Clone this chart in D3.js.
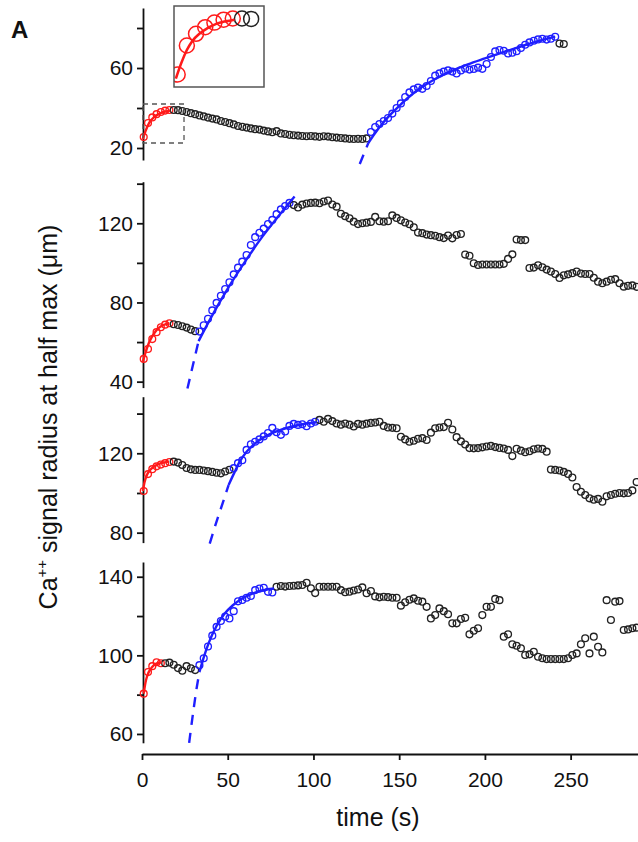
<!DOCTYPE html>
<html>
<head>
<meta charset="utf-8">
<script src="https://cdn.jsdelivr.net/npm/d3@7"></script>
<style>
  body { margin: 0; background: #fff; }
  svg { display: block; font-family: "Liberation Sans", Arial, sans-serif; }
  .axis path, .axis line { stroke: #111; stroke-width: 1.8; }
  .axis text { font-size: 21px; fill: #111; font-family: "Liberation Sans", Arial, sans-serif; }
</style>
</head>
<body>
<svg width="638" height="842"></svg>
<script>
const svg = d3.select('svg');

// sampling of every trace (s)
const t0 = 1;
const dt = 2.5;

// time axis
const xDomain = [0, 289];
const xTicks = [0, 50, 100, 150, 200, 250];

// ---- trace 1 ----
const p1Red = [25.5, 32.5, 35.3, 36.9, 38.0, 38.7, 39.0];
const p1Black = [39.0, 38.9, 38.5, 38.0, 37.4, 36.9, 36.3, 35.8, 35.2, 34.7, 34.3, 33.5, 33.0, 32.4, 31.8, 31.0,
  30.6, 30.2, 29.8, 29.4, 29.2, 28.7, 28.3, 27.9, 28.4, 27.3, 27.0, 26.6, 26.4, 26.2, 26.0, 25.9, 26.0, 25.8,
  25.6, 25.9, 25.7, 25.4, 25.2, 25.0, 24.8, 24.6, 24.5, 24.6, 24.5, 24.8];
const p1Blue = [28, 30.5, 32, 33.5, 35, 37.2, 40, 42.3, 45.5, 47.8, 49.3, 50.2, 49.6, 51, 53.5, 56.2, 57.3, 58.2,
  58.8, 58.2, 57.3, 58.8, 59.8, 59.2, 59.5, 60.2, 59.6, 62, 65.5, 68.3, 69, 68.6, 67.3, 67.6, 68.4, 70, 71.6,
  72.8, 73.6, 74.3, 74.6, 74.2, 74.6, 75.6];
const p1Tail = [72.2, 72.0];
const p1RedFit = [[0.5, 24.5], [2, 28.3], [3.5, 31.4], [5, 33.6], [7, 35.4], [9, 36.6], [11.5, 37.7], [14, 38.3], [16.5, 38.7]];
const p1BlueFit = [[132, 22.5], [136, 27.5], [140, 32], [145, 36.8], [150, 41], [155, 45], [160, 48.5], [170, 54],
  [180, 58.3], [190, 61.8], [200, 64.8], [210, 67.7], [220, 70.5], [230, 73.2], [241, 75.7]];
const p1BlueDash = [[127, 12], [132, 22.5]];
const p1Domain = [14, 90];
const p1Ticks = [20, 40, 60, 80];
const p1Labels = [20, 60];

// ---- trace 2 ----
const p2Red = [51.5, 56.5, 61.5, 65, 67.5, 68.8, 69.5];
const p2Black = [69, 68.6, 68, 67.3, 66.3, 65.5];
const p2Blue = [65.3, 68.5, 71.8, 76, 79.8, 83.4, 86.8, 90.2, 94.2, 97.6, 100.6, 104, 109, 113, 115.2, 117.3,
  119.6, 121.7, 124.6, 127, 128.7, 130.3];
const p2Tail = [129.2, 128, 129.4, 130, 130.3, 130.4, 130.1, 131, 131.5, 129.5, 128.4, 124.8, 123.6, 122.5, 120.8,
  119.6, 120, 120.3, 120.7, 123.2, 121, 120.8, 121, 124, 122.7, 121.5, 120.4, 119.5, 118, 115.3, 115, 114.3, 114,
  113.7, 113, 112.5, 113.8, 112.4, 114.1, 114.6, 104.2, 103.6, 99.8, 98.9, 99.2, 99.2, 99.2, 99.2, 99.2, 99.5,
  102, 104.3, 111.8, 111.5, 111.5, 97.4, 97.6, 98.8, 97.8, 96.6, 95.6, 94.4, 92.4, 93.7, 94.2, 94.8, 95.6, 94.6,
  94.4, 94.4, 92.5, 90.5, 89.7, 90.5, 91.5, 91.8, 89.7, 88, 88.4, 88.6, 87.9];
const p2RedFit = [[0.5, 50], [2, 54.5], [4, 59.5], [6, 63], [8, 65.5], [10, 67.3], [12, 68.4], [14, 69.1], [16, 69.5]];
const p2BlueFit = [[33, 60.5], [40, 72], [50, 87], [60, 100.5], [70, 113], [80, 124], [89, 133.5]];
const p2BlueDash = [[26.5, 36.5], [33, 60.5]];
const p2Domain = [37, 141];
const p2Ticks = [40, 60, 80, 100, 120, 140];
const p2Labels = [40, 80, 120];

// ---- trace 3 ----
const p3Red = [101, 109.5, 112, 113.4, 114.3, 115, 115.6];
const p3Black = [115.8, 115.3, 114.1, 112.6, 111.9, 111.6, 111.6, 111.3, 111, 110.6, 110.2, 109.9, 110.8, 111.7];
const p3Blue = [112.5, 115, 116.5, 121.7, 124.5, 125.8, 127, 128.5, 130.2, 132.8, 130.6, 129.3, 131, 133.8, 134.8,
  134.3, 134.6, 133.6, 135, 135.9];
const p3Tail = [136.8, 135.9, 137.3, 136.2, 135, 134.4, 135, 134.4, 133.5, 134.8, 134.4, 134.9, 135.3, 135.5, 135.9,
  133.8, 133, 132.8, 132.6, 128.3, 127, 125.8, 126.3, 127.3, 127.6, 126.7, 130.4, 132.6, 133, 133.2, 135.4, 132,
  128.1, 126, 124.4, 122.6, 122.5, 122.6, 123, 123.4, 123.7, 123.1, 122.7, 122.4, 121.7, 118.6, 122.3, 121.3,
  120.5, 121, 122, 122.4, 122.2, 120.8, 111.8, 111.6, 111.3, 110.6, 109.6, 107.8, 103, 100.6, 99, 97.3, 96.6, 97,
  95.6, 98.3, 99, 99.6, 100, 99.8, 100, 101.3, 105.5];
const p3RedFit = [[0.5, 101], [1.5, 105.5], [3, 109.3], [5, 111.8], [7, 113.3], [9, 114.3], [11, 115], [13, 115.4], [15.5, 115.8]];
const p3BlueFit = [[50.5, 104], [54, 110.5], [57, 115.8], [61, 120.8], [66, 125], [72, 128.5], [80, 131.5], [90, 134], [102, 135.6]];
const p3BlueDash = [[39.5, 74.5], [44, 87], [47.5, 96], [50.5, 104]];
const p3Domain = [75, 148.5];
const p3Ticks = [80, 100, 120, 140];
const p3Labels = [80, 120];

// ---- trace 4 ----
const p4Red = [80.5, 91.5, 94.5, 96.5, 96];
const p4Black = [96, 96.3, 95.2, 93.5, 92.2, 94.5, 93.4, 92.5];
const p4Blue = [95, 98.5, 104.5, 110, 114.5, 117.5, 119.7, 118.8, 122.5, 127.5, 128.2, 129.3, 130.2, 133.2, 134,
  134.4, 132.3, 132];
const p4Tail = [134.9, 135.3, 135, 135.3, 135.4, 135.6, 135.8, 136.9, 134.1, 131.7, 134.9, 134.9, 134.9, 134.9,
  134.9, 133.2, 132.1, 132.4, 133, 133.5, 134.6, 131.6, 132.7, 130, 129.5, 129.8, 129.6, 129.3, 129.3, 125.3, 127,
  128.3, 129, 127.8, 127.3, 124.7, 118.8, 120.5, 123.9, 122.5, 120.9, 116.3, 116.3, 118.5, 119.1, 110.7, 112.5,
  113.8, 120.5, 124.7, 124.7, 128.7, 128.1, 109.5, 110.7, 105.6, 104.9, 103.6, 100.2, 100.5, 101.8, 99.3, 98.5,
  98.1, 98.1, 98.1, 98.1, 98.1, 98.5, 100.2, 101, 105.6, 108.7, 101, 109.5, 104.4, 101.5, 128.1, 118, 127.3,
  127.6, 112.9, 113.2, 113.8, 114.1];
const p4RedFit = [[1, 80.5], [2, 86], [3, 89.5], [5, 93], [7, 95], [9, 96], [11.5, 96.5]];
const p4BlueFit = [[33.5, 91.5], [36, 99], [39, 106.5], [43.5, 115], [48, 121], [53, 125.5], [58, 128.7], [63, 130.9],
  [68, 132.5], [73, 133.5], [77, 134]];
const p4BlueDash = [[27.5, 55.5], [30, 72], [32, 84], [33.5, 91.5]];
const p4Domain = [55.5, 147.5];
const p4Ticks = [60, 80, 100, 120, 140];
const p4Labels = [60, 100, 140];

// zoomed box of trace 1 (time, radius)
const boxT = [0, 24.5];
const boxV = [22.5, 42];

// colours
const red = '#ff1a1a';
const blue = '#1f1fff';
const black = '#222';

// layout (pixel extents of each panel's y axis)
const plotLeft = 142;
const plotRight = 637.5;
const xAxisY = 754;
const panelRanges = [[160, 8], [387.6, 181.7], [542.6, 396.7], [742.8, 562]];
const inset = { x0: 174, x1: 264, y0: 6, y1: 87 };

const panels = [
  { red: p1Red, black: p1Black, blue: p1Blue, tail: p1Tail, redFit: p1RedFit, blueFit: p1BlueFit, blueDash: p1BlueDash, domain: p1Domain, ticks: p1Ticks, labels: p1Labels },
  { red: p2Red, black: p2Black, blue: p2Blue, tail: p2Tail, redFit: p2RedFit, blueFit: p2BlueFit, blueDash: p2BlueDash, domain: p2Domain, ticks: p2Ticks, labels: p2Labels },
  { red: p3Red, black: p3Black, blue: p3Blue, tail: p3Tail, redFit: p3RedFit, blueFit: p3BlueFit, blueDash: p3BlueDash, domain: p3Domain, ticks: p3Ticks, labels: p3Labels },
  { red: p4Red, black: p4Black, blue: p4Blue, tail: p4Tail, redFit: p4RedFit, blueFit: p4BlueFit, blueDash: p4BlueDash, domain: p4Domain, ticks: p4Ticks, labels: p4Labels }
];

const xscale = d3.scaleLinear().domain(xDomain).range([plotLeft, plotRight]);

// turn the colour segments into timed points
const toPoints = p => {
  const out = [];
  let i = 0;
  [[red, p.red], [black, p.black], [blue, p.blue], [black, p.tail]].forEach(([c, vals]) => {
    vals.forEach(v => { out.push({ t: t0 + i * dt, v: v, c: c }); i++; });
  });
  return out;
};

const drawTrace = (g, pts, fits, x, y, r, sw, lw) => {
  g.append('g').selectAll('circle').data(pts)
    .enter().append('circle')
    .attr('cx', d => x(d.t))
    .attr('cy', d => y(d.v))
    .attr('r', r)
    .attr('fill', 'none')
    .attr('stroke', d => d.c)
    .attr('stroke-width', sw);

  const line = d3.line().x(d => x(d[0])).y(d => y(d[1])).curve(d3.curveMonotoneX);
  fits.forEach(f => {
    g.append('path')
      .attr('d', line(f.pts))
      .attr('fill', 'none')
      .attr('stroke', f.c)
      .attr('stroke-width', lw)
      .attr('stroke-dasharray', f.dash || null);
  });
};

panels.forEach((p, k) => {
  const yscale = d3.scaleLinear().domain(p.domain).range(panelRanges[k]);
  const g = svg.append('g');

  g.append('g').attr('class', 'axis')
    .attr('transform', `translate(${plotLeft + 1},0)`)
    .call(d3.axisLeft(yscale)
      .tickValues(p.ticks)
      .tickSize(6)
      .tickSizeOuter(0)
      .tickPadding(4)
      .tickFormat(d => p.labels.includes(d) ? d : ''));

  const fits = [
    { pts: p.redFit, c: red },
    { pts: p.blueFit, c: blue },
    { pts: p.blueDash, c: blue, dash: '10,8' }
  ];
  drawTrace(g, toPoints(p), fits, xscale, yscale, 3.4, 1.35, 2.4);

  if (k === 0) {
    // dashed box marking the zoomed region
    g.append('rect')
      .attr('x', xscale(boxT[0]) + 1)
      .attr('y', yscale(boxV[1]))
      .attr('width', xscale(boxT[1]) - xscale(boxT[0]) - 1)
      .attr('height', yscale(boxV[0]) - yscale(boxV[1]))
      .attr('fill', 'none')
      .attr('stroke', '#555')
      .attr('stroke-width', 1.3)
      .attr('stroke-dasharray', '5,4');

    // inset with the zoomed view
    const xin = d3.scaleLinear().domain(boxT).range([inset.x0, inset.x1]);
    const yin = d3.scaleLinear().domain(boxV).range([inset.y1, inset.y0]);
    svg.append('clipPath').attr('id', 'insetclip')
      .append('rect')
      .attr('x', inset.x0).attr('y', inset.y0)
      .attr('width', inset.x1 - inset.x0).attr('height', inset.y1 - inset.y0);
    const gi = svg.append('g').attr('clip-path', 'url(#insetclip)');
    const insetPts = toPoints(p).filter(d => d.t <= 22);
    drawTrace(gi, insetPts, [{ pts: p.redFit, c: red }], xin, yin, 7.5, 1.5, 2.6);
    svg.append('rect')
      .attr('x', inset.x0).attr('y', inset.y0)
      .attr('width', inset.x1 - inset.x0).attr('height', inset.y1 - inset.y0)
      .attr('fill', 'none')
      .attr('stroke', '#555')
      .attr('stroke-width', 1.5);
  }
});

// time axis
svg.append('g').attr('class', 'axis')
  .attr('transform', `translate(0,${xAxisY})`)
  .call(d3.axisBottom(xscale).tickValues(xTicks).tickSize(6).tickSizeOuter(0).tickPadding(12));

svg.append('text')
  .text('time (s)')
  .attr('x', 378)
  .attr('y', 826)
  .attr('text-anchor', 'middle')
  .style('font-size', '25px')
  .attr('fill', '#111');

const ylab = svg.append('text')
  .attr('transform', 'translate(57,417) rotate(-90)')
  .attr('text-anchor', 'middle')
  .style('font-size', '25px')
  .attr('fill', '#111');
ylab.append('tspan').text('Ca');
ylab.append('tspan').text('++').attr('dy', -10).style('font-size', '15px');
ylab.append('tspan').text(' signal radius at half max (μm)').attr('dy', 10);

svg.append('text')
  .text('A')
  .attr('x', 11)
  .attr('y', 38)
  .style('font-size', '24px')
  .style('font-weight', 'bold')
  .attr('fill', '#111');
</script>
</body>
</html>
